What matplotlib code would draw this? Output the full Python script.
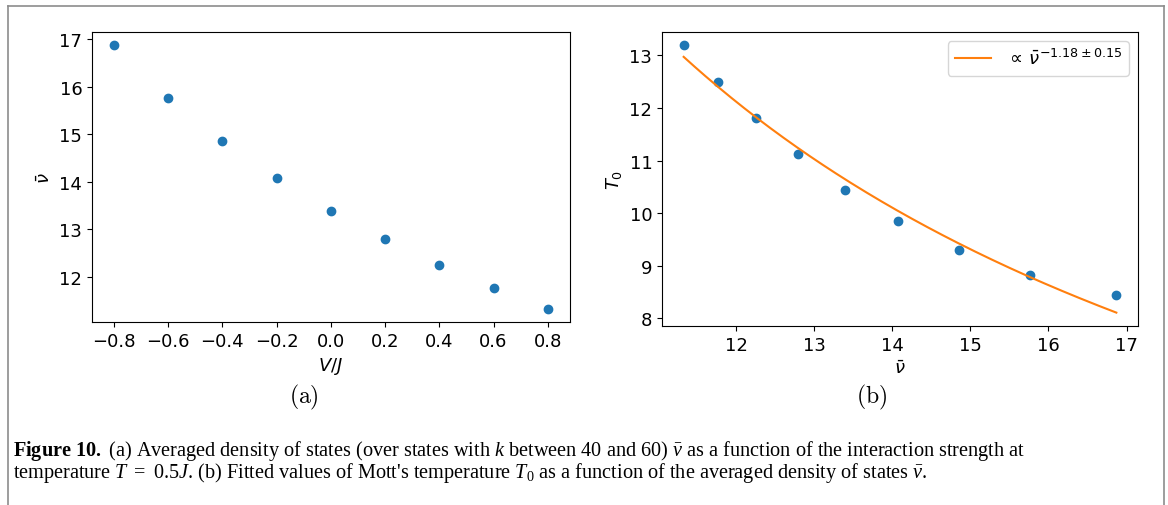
from matplotlib import pyplot as plt
from matplotlib.lines import Line2D
from numpy import linspace

# Panel (a): averaged density of states vs interaction strength
v_over_j = [-0.8, -0.6, -0.4, -0.2, 0.0, 0.2, 0.4, 0.6, 0.8]
nu_bar = [16.87, 15.77, 14.86, 14.07, 13.39, 12.79, 12.25, 11.77, 11.33]

# Panel (b): fitted Mott temperature vs averaged density of states
nu_b = [11.33, 11.77, 12.25, 12.79, 13.39, 14.07, 14.86, 15.77, 16.87]
t0 = [13.19, 12.50, 11.80, 11.12, 10.44, 9.86, 9.30, 8.83, 8.45]

# Power law fit  T0 = amp * nu^expo
fit_expo = -1.18
fit_amp = 227.5
fit_label = r'$\propto\,\bar{\nu}^{-1.18\pm0.15}$'

plt.rcParams['font.size'] = 13
plt.rcParams['mathtext.rm'] = 'Liberation Serif'
plt.rcParams['mathtext.it'] = 'Liberation Serif:italic'
plt.rcParams['mathtext.bf'] = 'Liberation Serif:bold'

fig = plt.figure(figsize=(11.68, 5.06), dpi=100)

ax1 = fig.add_axes([0.0788, 0.3617, 0.4088, 0.5731])
ax1.scatter(v_over_j, nu_bar, c='C0')
ax1.set_xlabel(r'$V/J$')
ax1.set_ylabel(r'$\bar{\nu}$')
ax1.set_xticks([-0.8, -0.6, -0.4, -0.2, 0.0, 0.2, 0.4, 0.6, 0.8])

ax2 = fig.add_axes([0.5668, 0.3538, 0.4075, 0.5810])
ax2.scatter(nu_b, t0, c='C0')
nu_line = linspace(min(nu_b), max(nu_b), 200)
ax2.plot(nu_line, fit_amp * nu_line ** fit_expo, c='C1', label=fit_label)
ax2.set_xlabel(r'$\bar{\nu}$')
ax2.set_ylabel(r'$T_0$')
ax2.legend(loc='upper right')

# sub-figure labels
fig.text(304 / 1168, 1 - 397 / 506, r'$\mathrm{(a)}$', fontsize=17,
         math_fontfamily='cm', ha='center', va='center')
fig.text(872 / 1168, 1 - 397 / 506, r'$\mathrm{(b)}$', fontsize=17,
         math_fontfamily='cm', ha='center', va='center')

# caption
line1 = (r'$\mathbf{Figure\ 10.}$ (a) Averaged density of states (over states with '
         r'$\mathit{k}$ between 40 and 60) $\bar{\nu}$ as a function of the interaction strength at')
line2 = (r"temperature $\mathit{T}\ =\ 0.5\mathit{J}$. (b) Fitted values of Mott's temperature "
         r'$\mathit{T}_0$ as a function of the averaged density of states $\bar{\nu}$.')
fig.text(13 / 1168, 1 - 456 / 506, line1, family='Liberation Serif', fontsize=14.6,
         math_fontfamily='custom', ha='left', va='baseline')
fig.text(13 / 1168, 1 - 478 / 506, line2, family='Liberation Serif', fontsize=14.6,
         math_fontfamily='custom', ha='left', va='baseline')

# page frame
frame = dict(color='#8c8c8c', lw=1.2, transform=fig.transFigure)
fig.add_artist(Line2D([8 / 1168, 8 / 1168], [0, 1 - 7 / 506], **frame))
fig.add_artist(Line2D([8 / 1168, 1164 / 1168], [1 - 7 / 506, 1 - 7 / 506], **frame))
fig.add_artist(Line2D([1164 / 1168, 1164 / 1168], [0, 1 - 7 / 506], **frame))

fig.savefig('out.png', dpi=100)
